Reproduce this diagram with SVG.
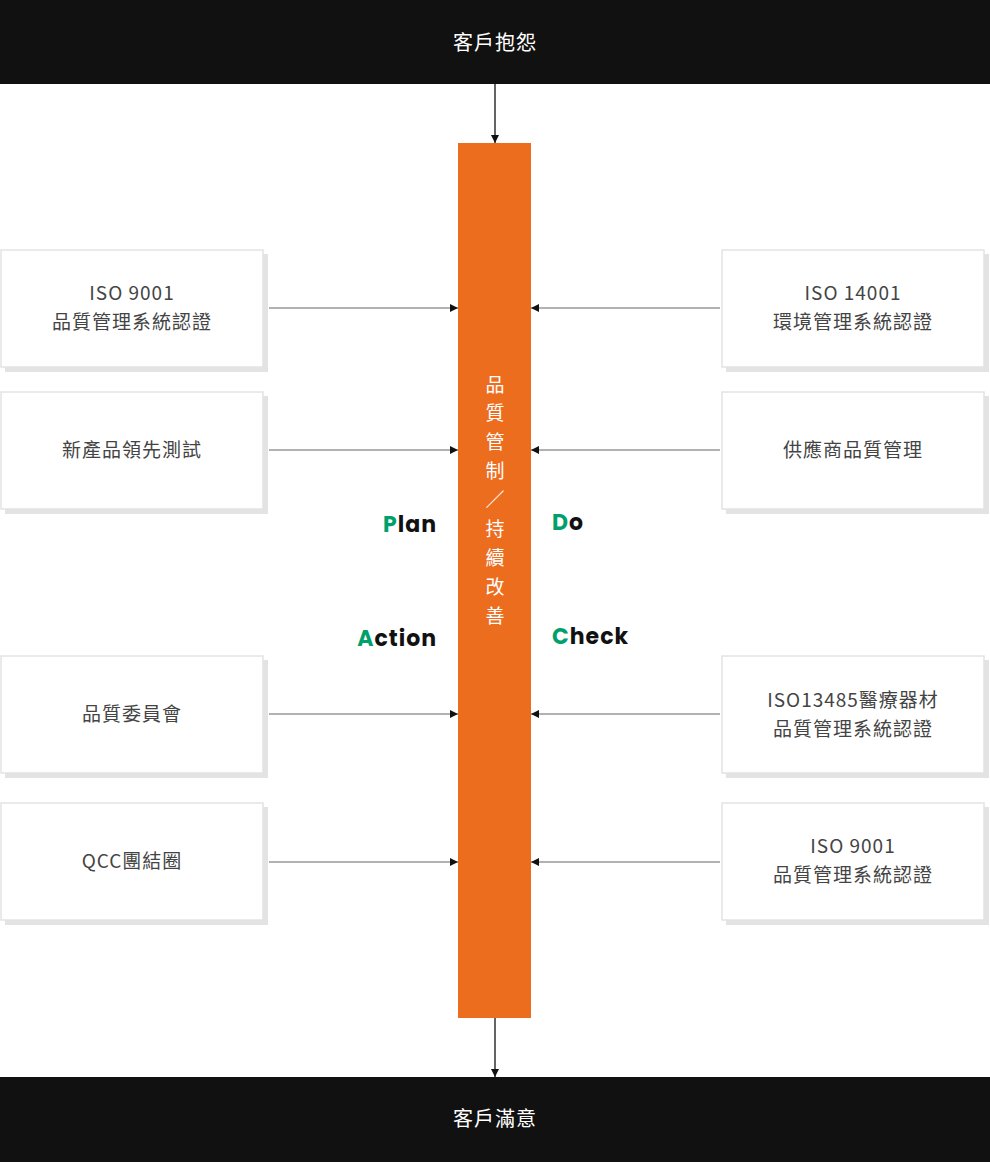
<svg xmlns="http://www.w3.org/2000/svg" width="990" height="1162" viewBox="0 0 990 1162">
<style>
.box{fill:#fff;stroke:#e3e3e3;stroke-width:1.5}
.sh{fill:#e3e3e3}
.bt{font-family:"Noto Sans CJK TC","Noto Sans",sans-serif;font-size:19px;fill:#444;text-anchor:middle;letter-spacing:1px}
.hd{font-family:"Noto Sans CJK TC",sans-serif;font-size:20px;fill:#fff;text-anchor:middle;letter-spacing:1px}
.vt{font-family:"Noto Sans CJK TC",sans-serif;font-size:19px;fill:#fff;text-anchor:middle}
.pd{font-family:Poppins,"Open Sans","Noto Sans",sans-serif;font-size:22px;font-weight:bold;fill:#111;letter-spacing:1px}
.g{fill:#00a06c}
.c{stroke:#999;stroke-width:1.3;fill:none}
.k{stroke:#111;stroke-width:1.3;fill:none}
</style>
<defs>
<marker id="a" viewBox="0 0 10 10" refX="10" refY="5" markerWidth="8" markerHeight="8" markerUnits="userSpaceOnUse" orient="auto"><path d="M0,0L10,5L0,10z" fill="#111"/></marker>
</defs>
<rect width="990" height="1162" fill="#fff"/>
<g id="top"><rect x="0" y="0" width="990" height="84" fill="#111"/><text class="hd" x="495" y="50">客戶抱怨</text></g>
<g id="bottom"><rect x="0" y="1077" width="990" height="85" fill="#111"/><text class="hd" x="495" y="1126">客戶滿意</text></g>
<g id="bar"><rect x="458" y="143" width="73" height="875" fill="#ed6d1f"/>
<text class="vt" x="495" y="392">品</text><text class="vt" x="495" y="420">質</text><text class="vt" x="495" y="449">管</text><text class="vt" x="495" y="478">制</text><text class="vt" x="495" y="507">／</text><text class="vt" x="495" y="536">持</text><text class="vt" x="495" y="565">續</text><text class="vt" x="495" y="594">改</text><text class="vt" x="495" y="623">善</text></g>
<g id="pdca">
<text class="pd" x="437" y="532" text-anchor="end"><tspan class="g">P</tspan>lan</text>
<text class="pd" x="552" y="530"><tspan class="g">D</tspan>o</text>
<text class="pd" x="437" y="646" text-anchor="end"><tspan class="g">A</tspan>ction</text>
<text class="pd" x="552" y="644"><tspan class="g">C</tspan>heck</text>
</g>
<g id="connectors">
<path class="k" d="M495,84V143" marker-end="url(#a)"/>
<path class="k" d="M495,1018V1077" marker-end="url(#a)"/>
<path class="c" d="M269,308H458" marker-end="url(#a)"/>
<path class="c" d="M269,450H458" marker-end="url(#a)"/>
<path class="c" d="M269,714H458" marker-end="url(#a)"/>
<path class="c" d="M269,862H458" marker-end="url(#a)"/>
<path class="c" d="M720,308H531" marker-end="url(#a)"/>
<path class="c" d="M720,450H531" marker-end="url(#a)"/>
<path class="c" d="M720,714H531" marker-end="url(#a)"/>
<path class="c" d="M720,862H531" marker-end="url(#a)"/>
</g>
<g id="l1"><rect class="sh" x="5" y="254" width="263" height="118"/><rect class="box" x="1" y="250" width="262" height="117"/><text class="bt" x="132" y="300">ISO 9001</text><text class="bt" x="132" y="329">品質管理系統認證</text></g>
<g id="l2"><rect class="sh" x="5" y="396" width="263" height="118"/><rect class="box" x="1" y="392" width="262" height="117"/><text class="bt" x="132" y="457">新產品領先測試</text></g>
<g id="l3"><rect class="sh" x="5" y="660" width="263" height="118"/><rect class="box" x="1" y="656" width="262" height="117"/><text class="bt" x="132" y="721">品質委員會</text></g>
<g id="l4"><rect class="sh" x="5" y="807" width="263" height="118"/><rect class="box" x="1" y="803" width="262" height="117"/><text class="bt" x="132" y="868">QCC團結圈</text></g>
<g id="r1"><rect class="sh" x="726" y="254" width="263" height="118"/><rect class="box" x="722" y="250" width="262" height="117"/><text class="bt" x="853" y="300">ISO 14001</text><text class="bt" x="853" y="329">環境管理系統認證</text></g>
<g id="r2"><rect class="sh" x="726" y="396" width="263" height="118"/><rect class="box" x="722" y="392" width="262" height="117"/><text class="bt" x="853" y="457">供應商品質管理</text></g>
<g id="r3"><rect class="sh" x="726" y="660" width="263" height="118"/><rect class="box" x="722" y="656" width="262" height="117"/><text class="bt" x="853" y="707">ISO13485醫療器材</text><text class="bt" x="853" y="736">品質管理系統認證</text></g>
<g id="r4"><rect class="sh" x="726" y="807" width="263" height="118"/><rect class="box" x="722" y="803" width="262" height="117"/><text class="bt" x="853" y="853">ISO 9001</text><text class="bt" x="853" y="882">品質管理系統認證</text></g>
</svg>
